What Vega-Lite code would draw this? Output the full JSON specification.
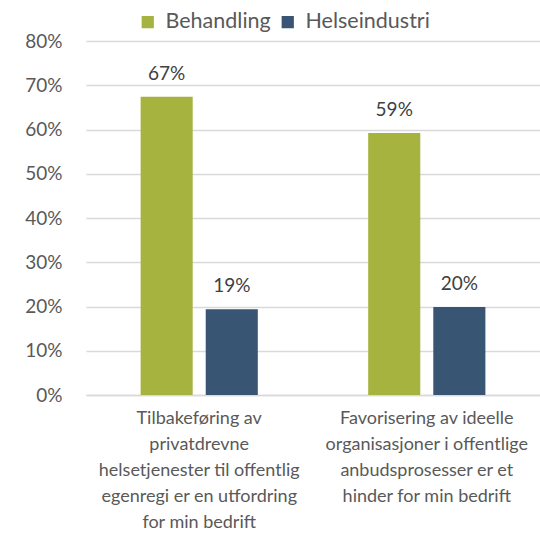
{
  "$schema": "https://vega.github.io/schema/vega-lite/v6.json",
  "autosize": "none",
  "width": 454,
  "height": 354,
  "padding": {"left": 86, "top": 41, "right": 0, "bottom": 138},
  "background": "white",
  "config": {
    "view": {"stroke": null},
    "font": "Lato",
    "axis": {"labelColor": "#595959", "labelFont": "Lato", "titleColor": "#595959"},
    "legend": {"labelColor": "#595959", "labelFont": "Lato"}
  },
  "data": {
    "values": [
      {"kategori": "Tilbakeføring av|privatdrevne|helsetjenester til offentlig|egenregi er en utfordring|for min bedrift", "gruppe": "Behandling", "andel": 0.674},
      {"kategori": "Tilbakeføring av|privatdrevne|helsetjenester til offentlig|egenregi er en utfordring|for min bedrift", "gruppe": "Helseindustri", "andel": 0.194},
      {"kategori": "Favorisering av ideelle|organisasjoner i offentlige|anbudsprosesser er et|hinder for min bedrift", "gruppe": "Behandling", "andel": 0.592},
      {"kategori": "Favorisering av ideelle|organisasjoner i offentlige|anbudsprosesser er et|hinder for min bedrift", "gruppe": "Helseindustri", "andel": 0.199}
    ]
  },
  "encoding": {
    "x": {
      "field": "kategori", "type": "nominal", "sort": null,
      "scale": {"paddingInner": 0.485, "paddingOuter": 0.24},
      "axis": {
        "title": null, "labelAngle": 0, "labelExpr": "split(datum.label, '|')",
        "labelFontSize": 18, "labelLineHeight": 26, "labelPadding": 14,
        "labelLimit": 0, "labelOverlap": false, "ticks": false,
        "domain": true, "domainColor": "#D9D9D9", "domainWidth": 1.5, "labelBaseline": "top"
      }
    },
    "xOffset": {
      "field": "gruppe", "type": "nominal",
      "scale": {"paddingInner": 0.2, "paddingOuter": 0}
    },
    "y": {
      "field": "andel", "type": "quantitative",
      "scale": {"domain": [0, 0.8]},
      "axis": {
        "title": null, "format": ".0%", "values": [0, 0.1, 0.2, 0.3, 0.4, 0.5, 0.6, 0.7, 0.8],
        "labelFontSize": 19, "labelPadding": 24, "ticks": false, "domain": false,
        "grid": true, "gridColor": "#D9D9D9", "gridWidth": 1.5
      }
    }
  },
  "layer": [
    {
      "mark": {"type": "bar"},
      "encoding": {
        "color": {
          "field": "gruppe", "type": "nominal",
          "scale": {"domain": ["Behandling", "Helseindustri"], "range": ["#A6B43F", "#385573"]},
          "legend": {
            "title": null, "orient": "none", "legendX": 51, "legendY": -30,
            "direction": "horizontal", "symbolType": "square", "symbolSize": 150,
            "symbolStrokeWidth": 0, "labelFontSize": 21.5, "columnPadding": 6, "labelOffset": 7
          }
        }
      }
    },
    {
      "mark": {"type": "text", "dy": -23, "fontSize": 19, "color": "#404040", "font": "Lato"},
      "encoding": {
        "text": {"field": "andel", "type": "quantitative", "format": ".0%"},
        "detail": {"field": "gruppe", "type": "nominal"}
      }
    }
  ]
}
